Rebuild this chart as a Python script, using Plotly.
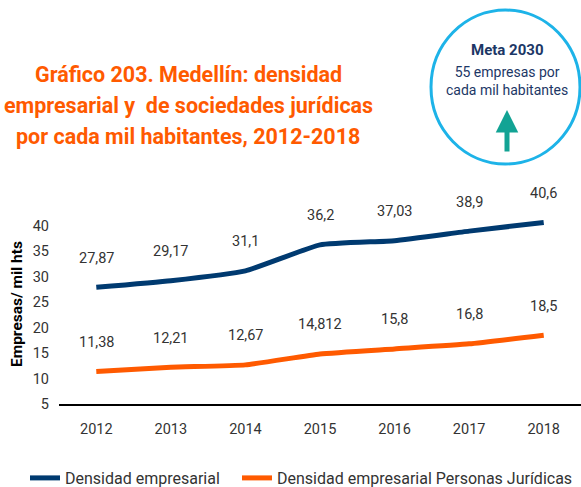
import plotly.graph_objects as go

years = ["2012", "2013", "2014", "2015", "2016", "2017", "2018"]
densidad = [27.87, 29.17, 31.1, 36.2, 37.03, 38.9, 40.6]
densidad_lbl = ["27,87", "29,17", "31,1", "36,2", "37,03", "38,9", "40,6"]
juridicas = [11.38, 12.21, 12.67, 14.812, 15.8, 16.8, 18.5]
juridicas_lbl = ["11,38", "12,21", "12,67", "14,812", "15,8", "16,8", "18,5"]
y_ticks = [5, 10, 15, 20, 25, 30, 35, 40]
title_lines = ["Gráfico 203. Medellín: densidad",
               "empresarial y  de sociedades jurídicas",
               "por cada mil habitantes, 2012-2018"]

BLUE = "#003A70"
ORANGE = "#FF5A00"
FONT = "Roboto"

W, H = 581, 487
L, R, T, B = 59, 0, 200, 83
PW, PH = W - L - R, H - T - B

def px(x):
    return (x - L) / PW

def py(y):
    return (H - B - y) / PH

fig = go.Figure()
fig.add_trace(go.Scatter(x=years, y=densidad, mode="lines", name="Densidad empresarial",
                         line=dict(color=BLUE, width=5, shape="spline", smoothing=0.4),
                         legend="legend"))
fig.add_trace(go.Scatter(x=years, y=juridicas, mode="lines", name="Densidad empresarial Personas Jurídicas",
                         line=dict(color=ORANGE, width=5, shape="spline", smoothing=0.4),
                         legend="legend2"))

annotations = []
for ys, ls in [(densidad, densidad_lbl), (juridicas, juridicas_lbl)]:
    for i, (y, l) in enumerate(zip(ys, ls)):
        annotations.append(dict(x=i, y=y, text=l, showarrow=False, yshift=29,
                                font=dict(family=FONT, size=14.5, color="#333333")))

# Title (one annotation per line for the wider line spacing)
for k, line in enumerate(title_lines):
    annotations.append(dict(xref="paper", yref="paper", x=px(188), y=py(74 + 31 * k),
                            text=line, showarrow=False, xanchor="center", yanchor="middle",
                            font=dict(family=FONT, size=21.5, color=ORANGE, weight="bold")))
# Meta box text
annotations.append(dict(xref="paper", yref="paper", x=px(507), y=py(50), text="<b>Meta 2030</b>",
                        showarrow=False, xanchor="center", yanchor="middle",
                        font=dict(family=FONT, size=15, color="#1C3766")))
annotations.append(dict(xref="paper", yref="paper", x=px(507), y=py(81),
                        text="55 empresas por<br>cada mil habitantes",
                        showarrow=False, xanchor="center", yanchor="middle", align="center",
                        font=dict(family=FONT, size=14, color="#1C3766")))
# Arrow
annotations.append(dict(xref="paper", yref="paper", axref="pixel", ayref="pixel",
                        x=px(507), y=py(110), ax=0, ay=43, text="",
                        showarrow=True, arrowhead=2, arrowsize=0.9, arrowwidth=5, arrowcolor="#12A394"))
# Y axis title
annotations.append(dict(xref="paper", yref="paper", x=px(17), y=py(304), text="<b>Empresas/ mil hts</b>",
                        textangle=-90, showarrow=False, xanchor="center", yanchor="middle",
                        font=dict(family=FONT, size=15.5, color="#000000")))

shapes = [dict(type="circle", xref="paper", yref="paper",
               x0=px(431), x1=px(580), y0=py(164), y1=py(10),
               line=dict(color="#1DB3E8", width=3), fillcolor="white", layer="below")]

leg_common = dict(orientation="h", xref="container", yref="container",
                  y=1 - 478 / H, xanchor="left", yanchor="middle",
                  font=dict(family=FONT, size=16, color="#333333"), itemwidth=30,
                  bgcolor="rgba(0,0,0,0)")

fig.update_layout(
    width=W, height=H, margin=dict(l=L, r=R, t=T, b=B, autoexpand=False),
    plot_bgcolor="white", paper_bgcolor="white",
    annotations=annotations, shapes=shapes,
    showlegend=True,
    legend=dict(x=25 / W, **leg_common),
    legend2=dict(x=237 / W, **leg_common),
    xaxis=dict(type="category", range=[-0.5, 6.5], showgrid=False, showline=True,
               linecolor="#000000", linewidth=1.5,
               ticks="", tickfont=dict(family=FONT, size=14.5, color="#333333"), ticklabelstandoff=11),
    yaxis=dict(range=[5, 45], tickvals=y_ticks, showgrid=False, zeroline=False, showline=False,
               ticks="", ticklabelstandoff=9, tickfont=dict(family=FONT, size=14.5, color="#333333")),
)

fig.write_html("out.html")
